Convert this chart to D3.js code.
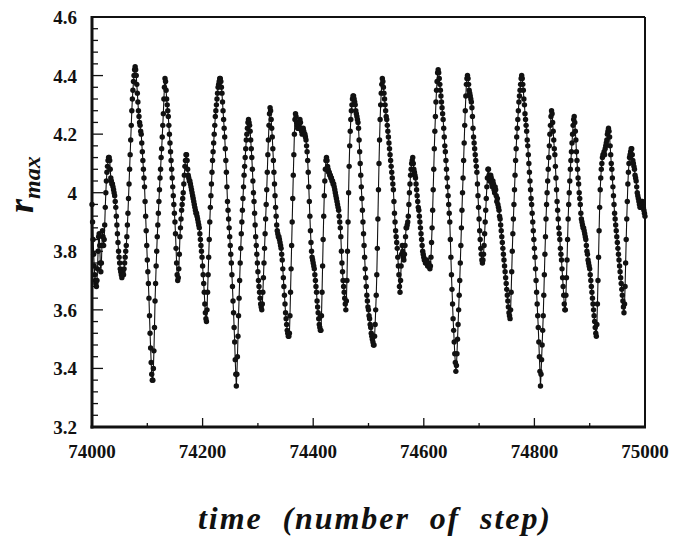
<!DOCTYPE html>
<html>
<head>
<meta charset="utf-8">
<script src="https://cdn.jsdelivr.net/npm/d3@7"></script>
<style>
  body { margin: 0; background: #fff; }
  svg { display: block; }
  text { font-family: "Liberation Serif", "Times New Roman", serif; fill: #111; }
</style>
</head>
<body>
<script>
// r_max sampled once per step, split in blocks of 100 steps
var rMax74000 = [
  3.96,3.90,3.84,3.79,3.75,3.72,3.70,3.69,3.68,3.70,
  3.74,3.80,3.85,3.86,3.82,3.76,3.73,3.76,3.82,3.87,
  3.85,3.82,3.84,3.89,3.95,4.00,4.04,4.07,4.09,4.11,
  4.12,4.12,4.11,4.08,4.05,4.04,4.03,4.03,4.02,4.01,
  4.00,3.99,3.97,3.95,3.92,3.89,3.86,3.83,3.80,3.78,
  3.76,3.74,3.73,3.72,3.71,3.72,3.73,3.72,3.74,3.76,
  3.78,3.80,3.82,3.85,3.89,3.93,3.98,4.03,4.08,4.13,
  4.18,4.23,4.28,4.32,4.35,4.38,4.40,4.42,4.43,4.42,
  4.40,4.37,4.34,4.31,4.28,4.26,4.24,4.23,4.21,4.20,
  4.17,4.14,4.11,4.08,4.05,4.02,3.97,3.92,3.87,3.82];
var rMax74100 = [
  3.77,3.73,3.69,3.64,3.58,3.52,3.47,3.42,3.38,3.36,
  3.36,3.40,3.46,3.54,3.63,3.69,3.75,3.80,3.85,3.89,
  3.93,3.97,4.01,4.05,4.08,4.12,4.15,4.19,4.23,4.27,
  4.32,4.36,4.39,4.38,4.35,4.32,4.30,4.28,4.26,4.23,
  4.20,4.17,4.14,4.11,4.08,4.05,4.02,3.99,3.96,3.93,
  3.90,3.86,3.81,3.76,3.72,3.70,3.71,3.74,3.79,3.85,
  3.88,3.91,3.94,3.96,3.98,4.00,4.03,4.06,4.09,4.11,
  4.13,4.13,4.11,4.08,4.06,4.05,4.04,4.04,4.03,4.02,
  4.01,4.00,3.99,3.98,3.97,3.96,3.95,3.94,3.93,3.93,
  3.92,3.91,3.90,3.89,3.88,3.86,3.84,3.82,3.80,3.78];
var rMax74200 = [
  3.75,3.72,3.69,3.66,3.62,3.59,3.57,3.56,3.60,3.66,
  3.72,3.78,3.84,3.90,3.95,3.99,4.03,4.07,4.11,4.14,
  4.17,4.20,4.23,4.26,4.28,4.30,4.32,4.34,4.36,4.37,
  4.38,4.39,4.39,4.38,4.36,4.34,4.31,4.28,4.25,4.22,
  4.19,4.15,4.11,4.07,4.02,3.97,3.94,3.91,3.88,3.85,
  3.82,3.79,3.76,3.72,3.68,3.63,3.59,3.54,3.49,3.43,
  3.38,3.34,3.38,3.44,3.51,3.58,3.64,3.70,3.76,3.81,
  3.86,3.90,3.94,3.98,4.02,4.06,4.09,4.12,4.15,4.18,
  4.20,4.22,4.24,4.25,4.24,4.23,4.21,4.18,4.15,4.12,
  4.08,4.04,4.00,3.97,3.93,3.89,3.85,3.82,3.79,3.76];
var rMax74300 = [
  3.73,3.70,3.68,3.66,3.64,3.62,3.61,3.60,3.62,3.66,
  3.71,3.76,3.81,3.86,3.91,3.96,4.01,4.07,4.13,4.18,
  4.23,4.27,4.29,4.28,4.25,4.22,4.19,4.15,4.11,4.07,
  4.03,3.99,3.95,3.92,3.89,3.87,3.86,3.85,3.85,3.84,
  3.83,3.82,3.81,3.79,3.77,3.74,3.71,3.68,3.65,3.62,
  3.59,3.57,3.55,3.53,3.52,3.51,3.51,3.52,3.58,3.66,
  3.74,3.82,3.90,3.98,4.06,4.13,4.20,4.25,4.27,4.26,
  4.24,4.23,4.22,4.22,4.23,4.24,4.25,4.24,4.22,4.21,
  4.20,4.21,4.22,4.21,4.20,4.20,4.19,4.18,4.16,4.14,
  4.11,4.07,4.02,3.97,3.92,3.87,3.83,3.80,3.78,3.77];
var rMax74400 = [
  3.76,3.75,3.74,3.72,3.70,3.68,3.66,3.63,3.61,3.59,
  3.57,3.55,3.54,3.53,3.53,3.58,3.66,3.75,3.84,3.92,
  3.99,4.04,4.08,4.11,4.12,4.11,4.09,4.08,4.07,4.07,
  4.06,4.06,4.05,4.05,4.04,4.04,4.03,4.03,4.02,4.01,
  4.00,3.99,3.98,3.97,3.96,3.95,3.94,3.92,3.90,3.88,
  3.85,3.80,3.76,3.73,3.70,3.68,3.66,3.64,3.62,3.60,
  3.63,3.70,3.80,3.90,4.00,4.09,4.16,4.21,4.25,4.28,
  4.30,4.32,4.33,4.33,4.32,4.31,4.30,4.28,4.27,4.26,
  4.25,4.24,4.22,4.18,4.14,4.10,4.06,4.02,3.98,3.94,
  3.90,3.86,3.82,3.78,3.74,3.71,3.68,3.65,3.63,3.61];
var rMax74500 = [
  3.60,3.58,3.57,3.55,3.54,3.52,3.51,3.50,3.49,3.48,
  3.48,3.51,3.55,3.60,3.65,3.72,3.81,3.91,4.01,4.10,
  4.18,4.25,4.30,4.34,4.37,4.39,4.38,4.36,4.34,4.32,
  4.30,4.28,4.26,4.25,4.23,4.21,4.19,4.17,4.15,4.13,
  4.11,4.09,4.07,4.05,4.03,4.01,3.97,3.93,3.90,3.87,
  3.85,3.83,3.81,3.78,3.75,3.72,3.68,3.66,3.70,3.75,
  3.79,3.82,3.80,3.78,3.77,3.79,3.82,3.85,3.88,3.88,
  3.89,3.90,3.92,3.96,4.00,4.03,4.06,4.08,4.10,4.11,
  4.12,4.10,4.08,4.07,4.06,4.05,4.03,4.01,3.99,3.97,
  3.95,3.94,3.92,3.90,3.88,3.86,3.84,3.82,3.80,3.79];
var rMax74600 = [
  3.78,3.77,3.77,3.76,3.76,3.77,3.76,3.75,3.75,3.76,
  3.75,3.74,3.75,3.78,3.83,3.88,3.94,4.01,4.08,4.15,
  4.21,4.26,4.31,4.35,4.38,4.41,4.42,4.41,4.39,4.37,
  4.35,4.33,4.31,4.29,4.27,4.25,4.22,4.19,4.16,4.14,
  4.11,4.08,4.05,4.02,3.99,3.96,3.93,3.90,3.84,3.78,
  3.72,3.67,3.62,3.57,3.53,3.49,3.45,3.42,3.39,3.41,
  3.45,3.50,3.55,3.60,3.65,3.70,3.76,3.82,3.88,3.94,
  4.00,4.05,4.11,4.17,4.23,4.28,4.33,4.37,4.39,4.40,
  4.39,4.37,4.35,4.34,4.33,4.32,4.31,4.29,4.26,4.22,
  4.19,4.17,4.15,4.13,4.11,4.09,4.07,4.03,3.99,3.95];
var rMax74700 = [
  3.91,3.87,3.84,3.81,3.79,3.77,3.76,3.77,3.79,3.82,
  3.86,3.90,3.94,3.98,4.02,4.05,4.08,4.08,4.06,4.04,
  4.05,4.06,4.05,4.03,4.02,4.04,4.03,4.01,4.00,4.02,
  4.01,3.99,3.97,3.98,3.96,3.95,3.94,3.92,3.91,3.89,
  3.87,3.85,3.83,3.81,3.79,3.77,3.75,3.73,3.71,3.69,
  3.67,3.65,3.63,3.61,3.59,3.58,3.57,3.60,3.66,3.73,
  3.80,3.86,3.91,3.96,4.01,4.06,4.11,4.15,4.19,4.22,
  4.25,4.28,4.31,4.33,4.35,4.37,4.39,4.40,4.39,4.37,
  4.35,4.32,4.30,4.27,4.25,4.23,4.21,4.18,4.16,4.13,
  4.10,4.07,4.04,4.01,3.98,3.96,3.93,3.90,3.87,3.84];
var rMax74800 = [
  3.81,3.78,3.74,3.70,3.66,3.62,3.58,3.54,3.49,3.44,
  3.39,3.34,3.38,3.43,3.48,3.53,3.58,3.65,3.72,3.79,
  3.85,3.91,3.96,4.00,4.04,4.08,4.12,4.16,4.20,4.23,
  4.26,4.28,4.27,4.24,4.21,4.18,4.15,4.13,4.09,4.05,
  4.01,3.97,3.94,3.91,3.88,3.86,3.84,3.81,3.79,3.77,
  3.74,3.71,3.68,3.65,3.62,3.60,3.60,3.65,3.71,3.77,
  3.84,3.91,3.96,4.00,4.04,4.08,4.11,4.14,4.17,4.20,
  4.23,4.25,4.26,4.24,4.21,4.18,4.14,4.11,4.08,4.05,
  4.03,4.00,3.98,3.96,3.93,3.91,3.90,3.89,3.88,3.88,
  3.87,3.86,3.85,3.84,3.82,3.80,3.79,3.77,3.76,3.75];
var rMax74900 = [
  3.74,3.72,3.70,3.68,3.66,3.64,3.62,3.60,3.58,3.56,
  3.54,3.52,3.51,3.55,3.62,3.70,3.78,3.87,3.95,4.01,
  4.05,4.08,4.10,4.12,4.13,4.13,4.14,4.13,4.15,4.16,
  4.17,4.18,4.20,4.21,4.22,4.21,4.19,4.16,4.13,4.10,
  4.08,4.05,4.02,3.99,3.96,3.93,3.91,3.89,3.87,3.85,
  3.83,3.81,3.79,3.77,3.75,3.73,3.71,3.69,3.67,3.65,
  3.63,3.61,3.59,3.62,3.68,3.76,3.84,3.91,3.97,4.03,
  4.07,4.10,4.12,4.13,4.14,4.15,4.15,4.13,4.11,4.10,
  4.09,4.08,4.06,4.05,4.04,4.02,4.00,3.99,3.98,3.97,
  3.96,3.95,3.95,3.96,3.97,3.97,3.96,3.95,3.94,3.93,
  3.92];

var blockStarts = [74000, 74100, 74200, 74300, 74400, 74500, 74600, 74700, 74800, 74900];
var blocks = [rMax74000, rMax74100, rMax74200, rMax74300, rMax74400,
              rMax74500, rMax74600, rMax74700, rMax74800, rMax74900];

var xTickValues = [74000, 74200, 74400, 74600, 74800, 75000];
var yTickValues = [3.2, 3.4, 3.6, 3.8, 4.0, 4.2, 4.4, 4.6];

// flatten blocks into {step, r}
var data = [];
blocks.forEach(function(b, k) {
  b.forEach(function(v, i) { data.push({step: blockStarts[k] + i, r: v}); });
});

var W = 674, H = 536;
var margin = {top: 17, right: 29, bottom: 109, left: 92},
  width = W - margin.left - margin.right,
  height = H - margin.top - margin.bottom;

var svg = d3.select("body").append("svg")
  .attr("width", W)
  .attr("height", H);

svg.append("rect").attr("width", W).attr("height", H).attr("fill", "#fff");

var g = svg.append("g")
  .attr("transform", "translate(" + margin.left + "," + margin.top + ")");

var x = d3.scaleLinear().domain([74000, 75000]).range([0, width]);
var y = d3.scaleLinear().domain([3.2, 4.6]).range([height, 0]);

// minor ticks, drawn inward
var xMinor = d3.range(74000, 75001, 100);
var yMinor = d3.range(0, 36).map(function(i) { return 3.2 + i * 0.04; });

g.selectAll(".xminor").data(xMinor).enter().append("line")
  .attr("x1", function(d) { return x(d); })
  .attr("x2", function(d) { return x(d); })
  .attr("y1", height)
  .attr("y2", function(d) { return (d % 200 === 0) ? height - 9 : height - 4; })
  .attr("stroke", "#111").attr("stroke-width", 1.3);

g.selectAll(".yminor").data(yMinor).enter().append("line")
  .attr("x1", 0)
  .attr("x2", function(d, i) { return (i % 5 === 0) ? 11 : 6; })
  .attr("y1", function(d) { return y(d); })
  .attr("y2", function(d) { return y(d); })
  .attr("stroke", "#111").attr("stroke-width", 1.3);

// frame
g.append("line").attr("x1", 0).attr("x2", width).attr("y1", 0).attr("y2", 0)
  .attr("stroke", "#111").attr("stroke-width", 2);
g.append("line").attr("x1", width).attr("x2", width).attr("y1", 0).attr("y2", height)
  .attr("stroke", "#111").attr("stroke-width", 2);
g.append("line").attr("x1", 0).attr("x2", 0).attr("y1", -1).attr("y2", height + 1.5)
  .attr("stroke", "#111").attr("stroke-width", 3);
g.append("line").attr("x1", -1.5).attr("x2", width + 1).attr("y1", height).attr("y2", height)
  .attr("stroke", "#111").attr("stroke-width", 3);

// tick labels
g.selectAll(".xlab").data(xTickValues).enter().append("text")
  .attr("x", function(d) { return x(d); })
  .attr("y", height + 31)
  .attr("text-anchor", "middle")
  .attr("font-size", "19px")
  .attr("font-weight", "bold")
  .text(function(d) { return d; });

g.selectAll(".ylab").data(yTickValues).enter().append("text")
  .attr("x", -15)
  .attr("y", function(d) { return y(d) + 7; })
  .attr("text-anchor", "end")
  .attr("font-size", "19px")
  .attr("font-weight", "bold")
  .text(function(d) { return String(+d.toFixed(1)); });

// the series
var line = d3.line()
  .x(function(d) { return x(d.step); })
  .y(function(d) { return y(d.r); });

g.append("path").datum(data)
  .attr("d", line)
  .attr("fill", "none")
  .attr("stroke", "#111")
  .attr("stroke-width", 1.1);

g.selectAll(".pt").data(data).enter().append("circle")
  .attr("cx", function(d) { return x(d.step); })
  .attr("cy", function(d) { return y(d.r); })
  .attr("r", 2.7)
  .attr("fill", "#111");

// axis titles
var yt = svg.append("text")
  .attr("transform", "translate(33,213) rotate(-90)")
  .attr("font-weight", "bold")
  .attr("font-style", "italic");
yt.append("tspan").attr("font-size", "36px").text("r");
yt.append("tspan").attr("font-size", "24px").attr("dy", 7).text("max");

svg.append("text")
  .attr("x", 374)
  .attr("y", 529)
  .attr("text-anchor", "middle")
  .attr("font-size", "32px")
  .attr("font-weight", "bold")
  .attr("font-style", "italic")
  .attr("textLength", 352)
  .attr("lengthAdjust", "spacing")
  .style("white-space", "pre")
  .text("time  (number  of  step)");
</script>
</body>
</html>
